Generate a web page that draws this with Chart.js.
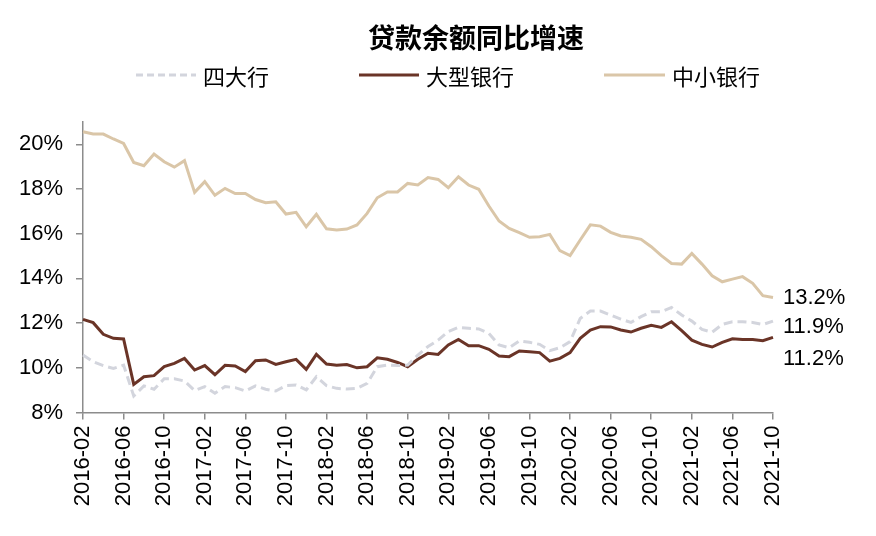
<!DOCTYPE html>
<html lang="zh">
<head>
  <meta charset="UTF-8" />
  <title>贷款余额同比增速</title>
  <script src="https://cdn.jsdelivr.net/npm/chart.js"></script>
  <style>
    body {
      margin: 0;
      background: #fff;
      font-family: "Liberation Sans", Arial, "Noto Sans CJK SC", sans-serif;
    }
    .wrap {
      position: relative;
      width: 876px;
      height: 536px;
    }
    .title {
      position: absolute;
      left: 0;
      width: 952px;
      top: 21px;
      text-align: center;
      font-family: "Noto Sans CJK SC", sans-serif;
      font-weight: bold;
      font-size: 27px;
      line-height: 32px;
      color: #000;
    }
    .leg {
      position: absolute;
      top: 61px;
      height: 28px;
      display: flex;
      align-items: center;
      font-family: "Noto Sans CJK SC", sans-serif;
      font-size: 22px;
      color: #000;
    }
    .leg svg { margin-right: 7px; }
    .end {
      position: absolute;
      left: 783px;
      font-size: 22px;
      line-height: 24px;
      color: #000;
    }
  </style>
</head>
<body>
<div class="wrap">
  <canvas id="c" width="876" height="536"></canvas>
  <div class="title">贷款余额同比增速</div>
  <div class="leg" style="left:136px">
    <svg width="60" height="6"><line x1="0" y1="3" x2="60" y2="3" stroke="#d3d5dd" stroke-width="3" stroke-dasharray="7,4"/></svg>四大行
  </div>
  <div class="leg" style="left:359px">
    <svg width="60" height="6"><line x1="0" y1="3" x2="60" y2="3" stroke="#6a3427" stroke-width="3"/></svg>大型银行
  </div>
  <div class="leg" style="left:604px">
    <svg width="61" height="6"><line x1="0" y1="3" x2="61" y2="3" stroke="#dac6a8" stroke-width="3"/></svg>中小银行
  </div>
  <div class="end" style="top:285px">13.2%</div>
  <div class="end" style="top:314px">11.9%</div>
  <div class="end" style="top:346px">11.2%</div>
</div>

<script>
  const months = [
    "2016-02","2016-03","2016-04","2016-05","2016-06","2016-07","2016-08","2016-09","2016-10","2016-11","2016-12",
    "2017-01","2017-02","2017-03","2017-04","2017-05","2017-06","2017-07","2017-08","2017-09","2017-10","2017-11","2017-12",
    "2018-01","2018-02","2018-03","2018-04","2018-05","2018-06","2018-07","2018-08","2018-09","2018-10","2018-11","2018-12",
    "2019-01","2019-02","2019-03","2019-04","2019-05","2019-06","2019-07","2019-08","2019-09","2019-10","2019-11","2019-12",
    "2020-01","2020-02","2020-03","2020-04","2020-05","2020-06","2020-07","2020-08","2020-09","2020-10","2020-11","2020-12",
    "2021-01","2021-02","2021-03","2021-04","2021-05","2021-06","2021-07","2021-08","2021-09","2021-10"
  ];

  const yTicks = [8, 10, 12, 14, 16, 18, 20];

  // 四大行
  const big4 = [
    10.57, 10.27, 10.10, 9.97, 10.12, 8.74, 9.19, 9.04, 9.51, 9.51,
    9.41, 8.98, 9.16, 8.86, 9.16, 9.11, 8.96, 9.19, 9.04, 8.96,
    9.20, 9.23, 9.01, 9.60, 9.20, 9.08, 9.05, 9.08, 9.30, 10.05,
    10.12, 10.10, 10.12, 10.57, 10.95, 11.24, 11.62, 11.81, 11.77, 11.74,
    11.54, 11.02, 10.90, 11.20, 11.14, 11.05, 10.77, 10.90, 11.17, 12.21,
    12.54, 12.54, 12.36, 12.18, 12.03, 12.29, 12.51, 12.51, 12.70, 12.36,
    12.09, 11.72, 11.59, 11.94, 12.06, 12.06, 12.03, 11.94, 12.09
  ];

  // 大型银行
  const large = [
    12.17, 12.02, 11.50, 11.32, 11.29, 9.26, 9.60, 9.65, 10.05, 10.20,
    10.42, 9.90, 10.10, 9.69, 10.11, 10.08, 9.83, 10.32, 10.35, 10.15,
    10.27, 10.38, 9.93, 10.60, 10.17, 10.11, 10.15, 10.00, 10.05, 10.45,
    10.38, 10.24, 10.05, 10.38, 10.65, 10.60, 11.02, 11.27, 10.99, 10.99,
    10.83, 10.53, 10.50, 10.75, 10.72, 10.68, 10.30, 10.42, 10.68, 11.32,
    11.69, 11.84, 11.83, 11.69, 11.60, 11.77, 11.90, 11.81, 12.06, 11.66,
    11.24, 11.05, 10.93, 11.14, 11.30, 11.27, 11.27, 11.21, 11.36
  ];

  // 中小银行
  const small = [
    20.56, 20.46, 20.46, 20.24, 20.04, 19.19, 19.04, 19.57, 19.22, 18.98,
    19.27, 17.85, 18.33, 17.72, 18.03, 17.80, 17.80, 17.53, 17.39, 17.43,
    16.88, 16.96, 16.31, 16.87, 16.22, 16.17, 16.21, 16.39, 16.91, 17.61,
    17.87, 17.87, 18.25, 18.18, 18.51, 18.43, 18.06, 18.55, 18.18, 17.99,
    17.24, 16.57, 16.24, 16.05, 15.84, 15.87, 15.97, 15.24, 15.02, 15.72,
    16.40, 16.34, 16.06, 15.90, 15.84, 15.75, 15.42, 15.02, 14.67, 14.64,
    15.12, 14.64, 14.12, 13.85, 13.97, 14.08, 13.78, 13.23, 13.15
  ];

  const axisColor = "#8c8c8c";
  const tickFont = { family: "'Liberation Sans', Arial, sans-serif", size: 22 };

  new Chart(document.getElementById("c").getContext("2d"), {
    type: "line",
    data: {
      labels: months,
      datasets: [
        { label: "四大行", data: big4, borderColor: "#d3d5dd", borderWidth: 3, borderDash: [9, 5] },
        { label: "大型银行", data: large, borderColor: "#6a3427", borderWidth: 3 },
        { label: "中小银行", data: small, borderColor: "#dac6a8", borderWidth: 3 }
      ]
    },
    options: {
      responsive: false,
      animation: false,
      elements: {
        point: { radius: 0 },
        line: { tension: 0, fill: false }
      },
      layout: { padding: { top: 122, right: 103, left: 0, bottom: 0 } },
      plugins: {
        legend: { display: false },
        title: { display: false },
        tooltip: { enabled: false }
      },
      scales: {
        x: {
          offset: false,
          border: { color: axisColor, width: 1.5 },
          grid: { display: true, drawOnChartArea: false, drawTicks: true, tickLength: 7, color: axisColor, lineWidth: 1.5 },
          ticks: {
            autoSkip: false,
            maxRotation: 90,
            minRotation: 90,
            padding: 6,
            color: "#000",
            font: tickFont,
            callback: function (v, i) { return i % 4 === 0 ? months[i] : null; }
          },
          afterFit: function (s) { s.height = 123.5; }
        },
        y: {
          min: 8,
          max: 21,
          border: { color: axisColor, width: 1.5 },
          grid: { display: true, drawOnChartArea: false, drawTicks: true, tickLength: 7, color: axisColor, lineWidth: 1.5 },
          afterBuildTicks: function (s) { s.ticks = yTicks.map(v => ({ value: v })); },
          ticks: {
            padding: 13,
            color: "#000",
            font: tickFont,
            callback: v => v + "%"
          },
          afterFit: function (s) { s.width = 83; }
        }
      }
    }
  });
</script>
</body>
</html>
